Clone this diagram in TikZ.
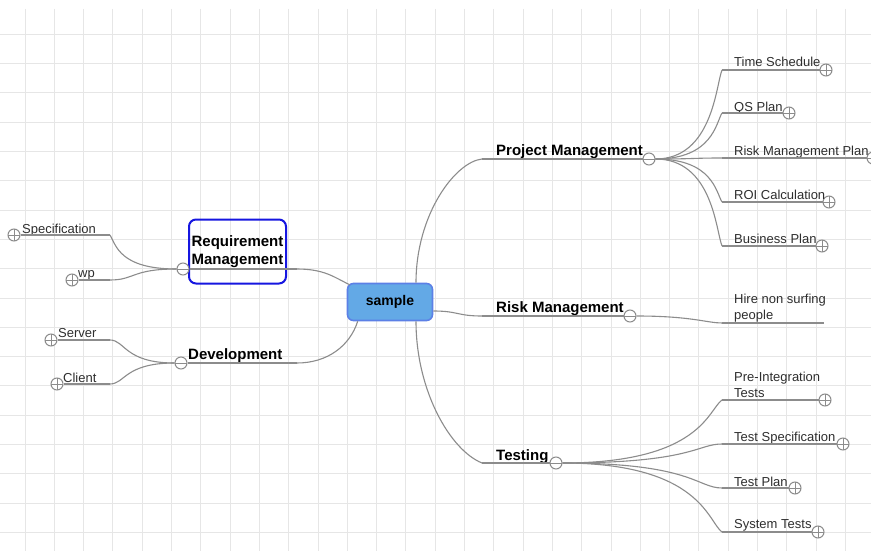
\documentclass[tikz,border=0pt]{standalone}
\usepackage{fontspec}
\setmainfont{Liberation Sans}
\usetikzlibrary{positioning}
\definecolor{gridgray}{HTML}{E6E6E6}
\definecolor{edgegray}{HTML}{8C8C8C}
\definecolor{rootfill}{HTML}{63A9E6}
\definecolor{rootline}{HTML}{5C80E6}
\definecolor{reqblue}{HTML}{1616E0}
\definecolor{labelgray}{HTML}{2E2E2E}

\begin{document}
\begin{tikzpicture}[x=1pt, y=-1pt,
  every node/.style={font=\fontsize{13}{16.5}\selectfont, inner sep=0pt, text=labelgray},
  topic/.style={font=\fontsize{15}{18.3}\selectfont\bfseries, text=black},
  leaf/.style={anchor=base west},
  root/.style={rectangle, rounded corners=6pt, draw=rootline, fill=rootfill,
    line width=1.6pt, minimum width=85pt, minimum height=37pt,
    font=\fontsize{14}{17}\selectfont\bfseries, text=black},
  edge/.style={draw=edgegray, line width=1.1pt},
  uline/.style={draw=edgegray, line width=1.6pt},
  fold/.style={circle, draw=edgegray, fill=white, line width=1pt, minimum size=12pt},
  fold minus/.style={fold, path picture={\draw[edgegray, line width=0.8pt]
    (path picture bounding box.west) -- (path picture bounding box.east);}},
  fold plus/.style={fold, path picture={\draw[edgegray, line width=0.8pt]
    (path picture bounding box.west) -- (path picture bounding box.east)
    (path picture bounding box.north) -- (path picture bounding box.south);}}]

  \useasboundingbox (0,0) rectangle (871,551);
  \clip (0,0) rectangle (871,551);
  \fill[white] (0,0) rectangle (871,551);

  % Grid
  \foreach \gx in {0,...,28}
    \draw[gridgray, line width=0.9pt] ({25+29.3*\gx},9) -- ({25+29.3*\gx},551);
  \foreach \gy in {0,...,17}
    \draw[gridgray, line width=0.9pt] (0,{34.3+29.3*\gy}) -- (871,{34.3+29.3*\gy});

  % Root
  \node[root] (sample) at (390,302) {sample};

  % Main topics, right side
  \coordinate (pm-in) at (482,159);
  \coordinate (rm-in) at (482,316);
  \coordinate (tst-in) at (482,463);
  \node[fold minus] (pm-fold) at (649,159) {};
  \node[fold minus] (rm-fold) at (630,316) {};
  \node[fold minus] (tst-fold) at (556,463) {};
  \node[topic, leaf] (pm) at (496,155) {Project Management};
  \node[topic, leaf] (rm) at (496,312) {Risk Management};
  \node[topic, leaf] (tst) at (496,460) {Testing};

  % Main topics, left side
  \node[topic, draw=reqblue, line width=2pt, rounded corners=7pt, align=left,
    inner sep=2.6pt, minimum width=97pt, minimum height=64pt] (req) at (237.5,251.5)
    {Requirement\\Management};
  \coordinate (req-out) at (297,269);
  \coordinate (dev-out) at (297,363);
  \node[fold minus] (req-fold) at (183,269) {};
  \node[fold minus] (dev-fold) at (181,363) {};
  \node[topic, leaf] (dev) at (188,359) {Development};

  % Children of Project Management
  \foreach \n/\y/\cx in {ts/70/826, qs/113/789, rmp/158/873, roi/202/829, bp/246/822}{
    \coordinate (\n-in) at (722,\y);
    \node[fold plus] (\n-fold) at (\cx,\y) {};
  }
  \node[leaf] (ts) at (734,67) {Time Schedule};
  \node[leaf] (qs) at (734,111) {QS Plan};
  \node[leaf] (rmp) at (734,155) {Risk Management Plan};
  \node[leaf] (roi) at (734,199) {ROI Calculation};
  \node[leaf] (bp) at (734,243) {Business Plan};

  % Child of Risk Management
  \coordinate (hire-in) at (722,323);
  \coordinate (hire-end) at (824,323);
  \node[anchor=north west, align=left] (hire) at (734,293.6) {Hire non surfing\\people};

  % Children of Testing
  \foreach \n/\y/\cx in {pit/400/825, tspec/444/843, tplan/488/795, syst/532/818}{
    \coordinate (\n-in) at (722,\y);
    \node[fold plus] (\n-fold) at (\cx,\y) {};
  }
  \node[anchor=north west, align=left] (pit) at (734,371.5) {Pre-Integration\\Tests};
  \node[leaf] (tspec) at (734,441.5) {Test Specification};
  \node[leaf] (tplan) at (734,486) {Test Plan};
  \node[leaf] (syst) at (734,528.5) {System Tests};

  % Children, left side
  \foreach \n/\y/\cx in {spec/235/14, wp/280/72, srv/340/51, cli/384/57}{
    \coordinate (\n-in) at (110,\y);
    \node[fold plus] (\n-fold) at (\cx,\y) {};
  }
  \node[leaf] (spec) at (22,233) {Specification};
  \node[leaf] (wp) at (78,277) {wp};
  \node[leaf] (srv) at (58,337) {Server};
  \node[leaf] (cli) at (63,382) {Client};

  % Underlines
  \draw[uline] (pm-in) -- (pm-fold);
  \draw[uline] (rm-in) -- (rm-fold);
  \draw[uline] (tst-in) -- (tst-fold);
  \draw[uline] (req-fold) -- (req-out);
  \draw[uline] (dev-fold) -- (dev-out);
  \foreach \n in {ts, qs, rmp, roi, bp, pit, tspec, tplan, syst}
    \draw[uline] (\n-in) -- (\n-fold);
  \foreach \n in {spec, wp, srv, cli}
    \draw[uline] (\n-fold) -- (\n-in);
  \draw[uline] (hire-in) -- (hire-end);

  % Edges from the root
  \draw[edge] ([xshift=26pt]sample.north) .. controls +(0,-68) and +(-27,3) .. (pm-in); % to Project Management
  \draw[edge] ([yshift=-9pt]sample.east) .. controls +(25,0) and +(-25,0) .. (rm-in); % to Risk Management
  \draw[edge] ([xshift=26pt]sample.south) .. controls +(0,69) and +(-32,-13) .. (tst-in); % to Testing
  \draw[edge] ([xshift=3pt,yshift=-2pt]sample.north west) .. controls +(-15,-7) and +(28,0) .. (req-out); % to Requirement Management
  \draw[edge] ([xshift=11pt]sample.south west) .. controls +(-8,25) and +(30,0) .. (dev-out); % to Development

  % Edges to the children
  \draw[edge] (pm-fold.east) .. controls +(57,0) and +(-6,15) .. (ts-in);
  \draw[edge] (pm-fold.east) .. controls +(57,0) and +(-6,10) .. (qs-in);
  \draw[edge] (pm-fold.east) .. controls +(40,0) and +(-30,0) .. (rmp-in);
  \draw[edge] (pm-fold.east) .. controls +(57,0) and +(-6,-10) .. (roi-in);
  \draw[edge] (pm-fold.east) .. controls +(57,0) and +(-6,-15) .. (bp-in);
  \draw[edge] (rm-fold.east) .. controls +(55,0) and +(-15,0) .. (hire-in);
  \draw[edge] (tst-fold.east) .. controls +(138,0) and +(-14,10) .. (pit-in);
  \draw[edge] (tst-fold.east) .. controls +(130,0) and +(-25,0) .. (tspec-in);
  \draw[edge] (tst-fold.east) .. controls +(130,0) and +(-25,0) .. (tplan-in);
  \draw[edge] (tst-fold.east) .. controls +(138,0) and +(-14,-10) .. (syst-in);
  \draw[edge] (req-fold.west) .. controls +(-57,0) and +(6,10) .. (spec-in);
  \draw[edge] (req-fold.west) .. controls +(-45,0) and +(25,0) .. (wp-in);
  \draw[edge] (dev-fold.west) .. controls +(-50,0) and +(15,0) .. (srv-in);
  \draw[edge] (dev-fold.west) .. controls +(-50,0) and +(15,0) .. (cli-in);
\end{tikzpicture}
\end{document}
